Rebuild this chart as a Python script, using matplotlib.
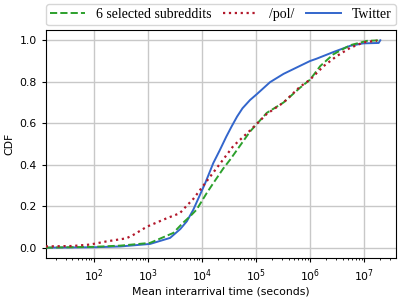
# CDF of mean interarrival time: subreddits vs /pol/ vs Twitter

import numpy as np
import matplotlib.pyplot as plt


# Data (log10 of seconds, CDF)

sub_logx = [1.11, 2.0, 2.5, 3.04, 3.47, 3.65, 3.78, 3.9, 4.09, 4.21, 4.39, 4.52,
            4.70, 4.89, 5.20, 5.51, 5.81, 6.0, 6.19, 6.43, 6.74, 7.05, 7.30]
sub_cdf = [0.0, 0.004, 0.010, 0.023, 0.071, 0.12, 0.151, 0.183, 0.264, 0.311, 0.38, 0.424,
           0.49, 0.56, 0.65, 0.70, 0.77, 0.81, 0.876, 0.932, 0.976, 0.997, 1.0]

pol_logx = [1.11, 1.6, 1.93, 2.23, 2.6, 2.72, 2.98, 3.35, 3.59, 3.71, 3.84, 4.06,
            4.39, 4.58, 4.89, 5.20, 5.51, 5.81, 6.0, 6.25, 6.49, 6.74, 6.99, 7.24]
pol_cdf = [0.006, 0.008, 0.015, 0.03, 0.045, 0.06, 0.101, 0.142, 0.166, 0.2, 0.235, 0.311,
           0.424, 0.49, 0.565, 0.645, 0.70, 0.775, 0.81, 0.875, 0.923, 0.963, 0.99, 0.998]

tw_logx = [1.11, 2.0, 2.5, 3.04, 3.41, 3.6, 3.72, 3.84, 4.06, 4.21, 4.33, 4.45,
           4.55, 4.65, 4.75, 4.89, 5.01, 5.15, 5.26, 5.51, 5.81, 6.0, 6.12, 6.43,
           6.74, 6.98, 7.27, 7.30]
tw_cdf = [0.0, 0.002, 0.006, 0.018, 0.047, 0.09, 0.127, 0.183, 0.311, 0.408, 0.47, 0.535,
          0.585, 0.632, 0.672, 0.712, 0.739, 0.772, 0.798, 0.838, 0.876, 0.90, 0.911, 0.943,
          0.973, 0.985, 0.987, 1.0]


fig = plt.figure(figsize=(4.07, 2.99), dpi=100)
ax = fig.add_axes([0.113, 0.137, 0.860, 0.763])

ax.plot(10 ** np.array(sub_logx), sub_cdf, color="#2ca02c", linestyle="--",
        linewidth=1.4, label="6 selected subreddits", zorder=3)
ax.plot(10 ** np.array(pol_logx), pol_cdf, color="#b2182b", linestyle=":",
        linewidth=1.6, label="/pol/", zorder=4)
ax.plot(10 ** np.array(tw_logx), tw_cdf, color="#3366cc", linestyle="-",
        linewidth=1.4, label="Twitter", zorder=2)

ax.set_xscale("log")
ax.set_xlim(13, 3.9e7)
ax.set_ylim(-0.05, 1.05)
ax.set_yticks([0.0, 0.2, 0.4, 0.6, 0.8, 1.0])
ax.set_xticks([1e2, 1e3, 1e4, 1e5, 1e6, 1e7])

ax.grid(True, which="major", color="#c8c8c8", linewidth=1.0)
ax.set_axisbelow(True)
ax.tick_params(labelsize=7.8, length=3)
ax.tick_params(which="minor", length=1.5)

ax.set_xlabel("Mean interarrival time (seconds)", fontsize=7.8, labelpad=2)
ax.set_ylabel("CDF", fontsize=7.8)

leg = ax.legend(
    loc="lower left",
    bbox_to_anchor=(0.0, 1.02, 1.0, 0.1),
    mode="expand",
    ncol=3,
    borderaxespad=0.0,
    borderpad=0.3,
    prop={"family": "Liberation Serif", "size": 10},
    handlelength=2.5,
    frameon=True,
)
leg.get_frame().set_edgecolor("#cccccc")

plt.savefig("out.png", dpi=100)
plt.close()
